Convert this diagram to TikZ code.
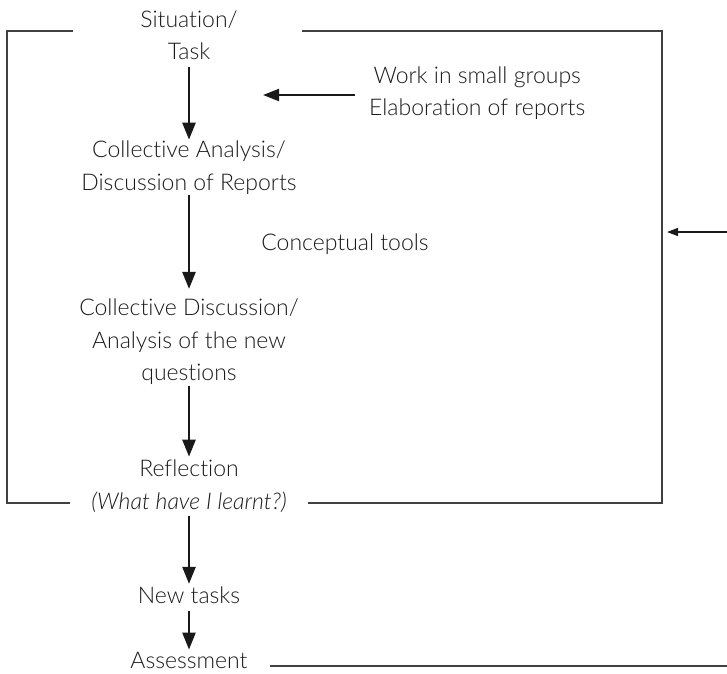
\documentclass[tikz,border=0pt]{standalone}
\usepackage{fontspec}
\setmainfont{Lato Light}[Ligatures=NoCommon]
\usetikzlibrary{arrows.meta}
\begin{document}
\begin{tikzpicture}[x=1pt,y=-1pt,
  lbl/.style={align=center,inner sep=0pt,font=\fontsize{23}{32.5}\selectfont,text=black!90},
  flow/.style={line width=2.5pt,-{Triangle[length=17pt,width=13pt]},black!90},
  frame/.style={line width=1.3pt,black!75},
  side arrow/.style={line width=2pt,-{Triangle[length=16pt,width=12pt]},black!90},
  thin arrow/.style={line width=1.2pt,-{Triangle[length=11pt,width=8pt]},black!90}]
\useasboundingbox (0,0) rectangle (727,673);
% nodes
\node[lbl] (sit) at (189,35) {Situation/\\Task};
\node[lbl] (ca) at (189,167.5) {Collective Analysis/\\Discussion of Reports};
\node[lbl] (cd) at (189,342) {Collective Discussion/\\Analysis of the new\\questions};
\node[lbl] (ref) at (189,486) {Reflection\\\textit{(What have I learnt?)}};
\node[lbl] (nt) at (189,595.5) {New tasks};
\node[lbl] (as) at (189,660) {Assessment};
\node[lbl,anchor=west] (work) at (369,93) {Work in small groups\\Elaboration of reports};
\node[lbl] (tools) at (345,244) {Conceptual tools};
% frame coordinates
\coordinate (tlg) at (73,31);
\coordinate (tl) at (7,31);
\coordinate (bl) at (7,503);
\coordinate (blg) at (70,503);
\coordinate (trg) at (302,31);
\coordinate (tr) at (662,31);
\coordinate (br) at (662,503);
\coordinate (brg) at (308,503);
\coordinate (wt) at (263,95);
\coordinate (fin) at (727,232);
\coordinate (fout) at (667,232);
\coordinate (aend) at (727,666);
\coordinate (astart) at (270,666);
% frame
\draw[frame] (tlg) -- (tl) -- (bl) -- (blg);
\draw[frame] (trg) -- (tr) -- (br) -- (brg);
\draw[frame] (astart) -- (aend);
% flow arrows
\draw[flow,shorten <=7pt,shorten >=1pt] (sit.south) -- (sit.south |- ca.north);
\draw[flow,shorten <=1pt,shorten >=10pt] (ca.south) -- (ca.south |- cd.north);
\draw[flow,shorten <=1pt,shorten >=3pt] (cd.south) -- (cd.south |- ref.north);
\draw[flow,shorten <=4pt,shorten >=3pt] (ref.south) -- (ref.south |- nt.north);
\draw[flow,shorten <=7pt,shorten >=2pt] (nt.south) -- (nt.south |- as.north);
\draw[side arrow,shorten <=14pt] (work.west |- wt) -- (wt);
\draw[thin arrow] (fin) -- (fout);
\end{tikzpicture}
\end{document}
